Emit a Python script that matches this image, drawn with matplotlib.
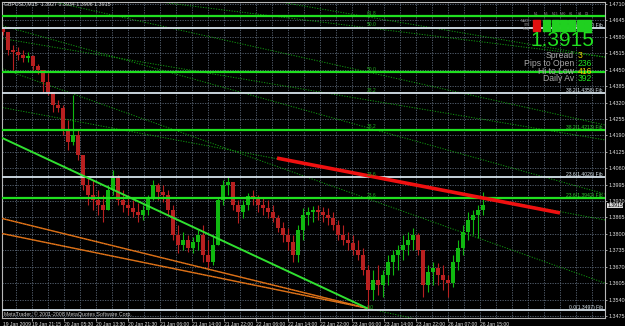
import numpy as np
import matplotlib
matplotlib.use("Agg")
import matplotlib.pyplot as plt
from matplotlib.patches import Rectangle
from matplotlib.transforms import blended_transform_factory

W, H = 625, 326
plt.rcParams['font.family'] = ['Liberation Sans', 'DejaVu Sans']

# ---- axis labels ----
y_ticks = [round(1.4710 - 0.0065 * k, 4) for k in range(20)]
x_tick_pos = [30 + 32 * k for k in range(15)]
x_tick_labels = ["19 Jan 21:15", "20 Jan 05:30", "20 Jan 13:30", "20 Jan 21:30",
                 "21 Jan 06:00", "21 Jan 14:00", "21 Jan 22:00", "22 Jan 06:00",
                 "22 Jan 14:00", "22 Jan 22:00", "23 Jan 06:00", "23 Jan 14:00",
                 "23 Jan 22:00", "26 Jan 07:00", "26 Jan 15:00"]
first_label = "19 Jan 2009"

# ---- GBPUSD M15 price (~5 bars per candle) ----
first_open = 1.4611
highs = [1.4619, 1.4599, 1.4548, 1.4540, 1.4528, 1.4520, 1.4508, 1.4472, 1.4417, 1.4437,
         1.4350, 1.4330, 1.4310, 1.4251, 1.4350, 1.4211, 1.4112, 1.4021, 1.4013, 1.3974,
         1.3954, 1.3993, 1.4053, 1.4033, 1.3974, 1.3954, 1.3934, 1.3922, 1.3914, 1.3954,
         1.4013, 1.4001, 1.3993, 1.3974, 1.3914, 1.3835, 1.3807, 1.3796, 1.3788, 1.3815,
         1.3835, 1.3776, 1.3796, 1.3946, 1.4013, 1.4025, 1.4001, 1.3934, 1.3934, 1.3962,
         1.3974, 1.3954, 1.3946, 1.3934, 1.3914, 1.3875, 1.3847, 1.3823, 1.3796, 1.3835,
         1.3902, 1.3906, 1.3910, 1.3914, 1.3906, 1.3902, 1.3887, 1.3855, 1.3835, 1.3807,
         1.3796, 1.3776, 1.3744, 1.3677, 1.3657, 1.3677, 1.3657, 1.3716, 1.3736, 1.3756,
         1.3796, 1.3807, 1.3823, 1.3803, 1.3716, 1.3677, 1.3689, 1.3685, 1.3677, 1.3637,
         1.3716, 1.3776, 1.3835, 1.3887, 1.3894, 1.3914, 1.3966]
lows = [1.4587, 1.4508, 1.4449, 1.4488, 1.4480, 1.4480, 1.4449, 1.4433, 1.4358, 1.4350,
        1.4282, 1.4282, 1.4191, 1.4132, 1.4152, 1.4092, 1.3974, 1.3914, 1.3894, 1.3875,
        1.3847, 1.3894, 1.3954, 1.3914, 1.3887, 1.3875, 1.3867, 1.3847, 1.3855, 1.3875,
        1.3934, 1.3934, 1.3926, 1.3875, 1.3776, 1.3724, 1.3736, 1.3728, 1.3724, 1.3736,
        1.3689, 1.3665, 1.3677, 1.3756, 1.3914, 1.3954, 1.3894, 1.3843, 1.3863, 1.3894,
        1.3914, 1.3887, 1.3875, 1.3863, 1.3847, 1.3807, 1.3768, 1.3736, 1.3689, 1.3689,
        1.3776, 1.3835, 1.3847, 1.3855, 1.3847, 1.3835, 1.3815, 1.3776, 1.3756, 1.3736,
        1.3716, 1.3697, 1.3637, 1.3500, 1.3538, 1.3558, 1.3550, 1.3598, 1.3637, 1.3657,
        1.3697, 1.3716, 1.3736, 1.3716, 1.3550, 1.3570, 1.3598, 1.3598, 1.3578, 1.3550,
        1.3590, 1.3657, 1.3716, 1.3776, 1.3796, 1.3784, 1.3875]
closes = [1.4599, 1.4528, 1.4520, 1.4508, 1.4496, 1.4504, 1.4465, 1.4449, 1.4401, 1.4362,
          1.4310, 1.4298, 1.4211, 1.4164, 1.4191, 1.4112, 1.3993, 1.3954, 1.3934, 1.3914,
          1.3894, 1.3974, 1.4021, 1.3934, 1.3914, 1.3902, 1.3887, 1.3875, 1.3894, 1.3942,
          1.3993, 1.3966, 1.3954, 1.3894, 1.3796, 1.3756, 1.3776, 1.3744, 1.3768, 1.3796,
          1.3716, 1.3689, 1.3756, 1.3934, 1.3993, 1.4005, 1.3914, 1.3887, 1.3914, 1.3950,
          1.3942, 1.3914, 1.3902, 1.3887, 1.3863, 1.3823, 1.3796, 1.3768, 1.3716, 1.3815,
          1.3875, 1.3887, 1.3894, 1.3887, 1.3875, 1.3863, 1.3835, 1.3796, 1.3776, 1.3764,
          1.3736, 1.3716, 1.3657, 1.3578, 1.3617, 1.3598, 1.3637, 1.3689, 1.3716, 1.3736,
          1.3756, 1.3776, 1.3796, 1.3736, 1.3598, 1.3649, 1.3665, 1.3637, 1.3617, 1.3606,
          1.3689, 1.3744, 1.3807, 1.3855, 1.3875, 1.3894, 1.3915]
bar_x = np.arange(len(closes)) * 5 + 1

# ---- fibonacci levels (two retracements, both from the 23 Jan low) ----
fib_white_levels = ["0.0", "23.6", "38.2", "50.0"]
fib_white_prices = [1.3497, 1.4026, 1.4358, 1.4617]
fib_green_levels = ["0.0", "23.6", "38.2", "50.0", "61.8"]
fib_green_prices = [1.3497, 1.3942, 1.4213, 1.4440, 1.4663]

# ---- drawn objects: (x0, x1), (p0, p1) ----
trend_green = ([0, 365], [1.4180, 1.3506])
trend_orange = [([-2, 365], [1.3863, 1.3506]),
                ([-2, 365], [1.3803, 1.3506])]
trend_red = ([275, 558], [1.4100, 1.3883])
dotted_lines = [([141, 603], [1.4726, 1.4500]),
                ([266, 603], [1.4726, 1.4500]),
                ([43, 603], [1.4726, 1.4231]),
                ([-2, 603], [1.4575, 1.4172]),
                ([-2, 603], [1.4627, 1.3958]),
                ([-2, 603], [1.4457, 1.3605]),
                ([-2, 603], [1.4302, 1.3855]),
                ([365, 418], [1.3506, 1.3459])]

bid = 1.3915
ohlc_text = "GBPUSD,M15  1.3927 1.3934 1.3906 1.3915"
panel_rows = ["MACD", "STR", "EMA"]
panel_cols = ["M1", "M5", "M15", "M30", "H1", "H4", "D1"]
panel_state = [[0, 1, 1, 1, 1, 1, 1]] * 3
info_names = ["Spread", "Pips to Open", "Hi to Low", "Daily Av"]
info_values = ["3", "236", "416", "392"]
info_colors = ["#e8d000", "#20e020", "#e8d000", "#20e020"]

fig = plt.figure(figsize=(W / 100, H / 100), dpi=100, facecolor="black")
ax = fig.add_axes([2 / W, 8 / H, 603 / W, 316 / H], facecolor="black")
ax.set_xlim(0, 603)
ax.set_ylim(1.3467, 1.4718)

grid_kw = dict(color="#5c6878", lw=0.6, ls=(0, (1.5, 1.5)), zorder=0)
for p in y_ticks:
    ax.axhline(p, **grid_kw)
for gx in range(14, 603, 16):
    ax.axvline(gx, **grid_kw)

# candles
opens = [first_open] + closes[:-1]
for x, o, c, hi, lo in zip(bar_x, opens, closes, highs, lows):
    col = "#10b810" if c >= o else "#b82020"
    ax.vlines(x, lo, hi, color=col, lw=0.8, zorder=3)
    ax.bar(x, c - o if c != o else 0.00005, bottom=o, width=4.2, color=col, zorder=3)

# fib lines
for lev, p in zip(fib_white_levels, fib_white_prices):
    ax.axhline(p, color="#d8e4ec", lw=1.3, zorder=4)
    ax.text(365, p + 0.0005, lev, color="#22aa22", fontsize=3.6, zorder=6)
    ax.text(601, p + 0.0004, f"{lev}({p:.4f}) Fib", color="#d8e4ec", fontsize=3.6,
            ha="right", zorder=6)
for lev, p in zip(fib_green_levels, fib_green_prices):
    if lev == "0.0":
        continue
    ax.axhline(p, color="#20e020", lw=1.6, zorder=4)
    ax.text(365, p + 0.0005, lev, color="#22aa22", fontsize=3.6, zorder=6)
    if lev not in ("61.8", "50.0"):
        ax.text(601, p + 0.0004, f"{lev}({p:.4f}) Fib", color="#30c030", fontsize=3.6,
                ha="right", zorder=6)

for xs, ps in dotted_lines:
    ax.plot(xs, ps, color="#109a10", lw=0.7, ls=(0, (1.2, 1.5)), zorder=2)
for xs, ps in trend_orange:
    ax.plot(xs, ps, color="#e8801a", lw=1.0, zorder=4)
    ax.plot(xs, ps, color="#b03010", lw=0.5, ls=(0, (1, 2)), zorder=4)
ax.plot(*trend_green, color="#30e030", lw=1.4, zorder=5)
ax.plot(*trend_red, color="#f01010", lw=2.6, solid_capstyle="butt", zorder=5)

# axes look
for s in ax.spines.values():
    s.set_color("#b8b8b8")
    s.set_linewidth(0.8)
ax.yaxis.tick_right()
ax.set_yticks(y_ticks, [f"{v:.4f}" for v in y_ticks])
ax.tick_params(axis="y", colors="#e0e0e0", length=1.5, width=0.5, labelsize=3.9, pad=0.8)
ax.set_xticks(x_tick_pos, x_tick_labels)
ax.tick_params(axis="x", colors="#e0e0e0", length=2, width=0.5, labelsize=3.6, pad=0.8)
for t in ax.get_xticklabels():
    t.set_ha("left")
ax.text(1, -0.012, first_label, transform=blended_transform_factory(ax.transData, ax.transAxes),
        color="#e0e0e0", fontsize=3.6, va="top")

bt = blended_transform_factory(ax.transAxes, ax.transData)
ax.text(1.004, bid - 0.0002, f"{bid:.4f}", transform=bt, fontsize=3.7, color="black", va="center",
        bbox=dict(boxstyle="square,pad=0.05", fc="#d8d8d8", ec="none"), clip_on=False, zorder=8)

ax.text(2, 1.4710, ohlc_text, color="#e0e0e0", fontsize=3.8, va="center", zorder=7)
ax.text(2, 1.3481, "MetaTrader, \u00a9 2001-2008 MetaQuotes Software Corp.", color="#c8c8c8",
        fontsize=3.8, va="center", zorder=7)


def fx(x):
    return x / W


def fy(y):
    return 1 - y / H


# signal panel
col_x = [533, 543, 552, 560, 568, 577, 584]
for j, name in enumerate(panel_cols):
    fig.text(fx(col_x[j] + 3), fy(14), name, fontsize=2.3, color="#909090", ha="center", va="center")
for i, name in enumerate(panel_rows):
    fig.text(fx(530), fy(21.5 + 4 * i), name, fontsize=2.3, color="#909090", ha="right", va="center")
    for j, st in enumerate(panel_state[i]):
        fig.patches.append(Rectangle((fx(col_x[j]), fy(23 + 4 * i)), 7 / W, 3 / H,
                                     transform=fig.transFigure, color="#20d020" if st else "#e01010"))

fig.text(fx(562), fy(41), f"{bid:.4f}", fontsize=15, color="#20e020", ha="center", va="center")
name_y = [56, 63.5, 71, 78.5]
for n, v, c, yy in zip(info_names, info_values, info_colors, name_y):
    fig.text(fx(574), fy(yy), n, fontsize=6.2, color="#a8a8a8", ha="right", va="center")
    fig.text(fx(578), fy(yy), v, fontsize=6.2, color=c, ha="left", va="center")

fig.savefig("out.png", dpi=100, facecolor="black")
